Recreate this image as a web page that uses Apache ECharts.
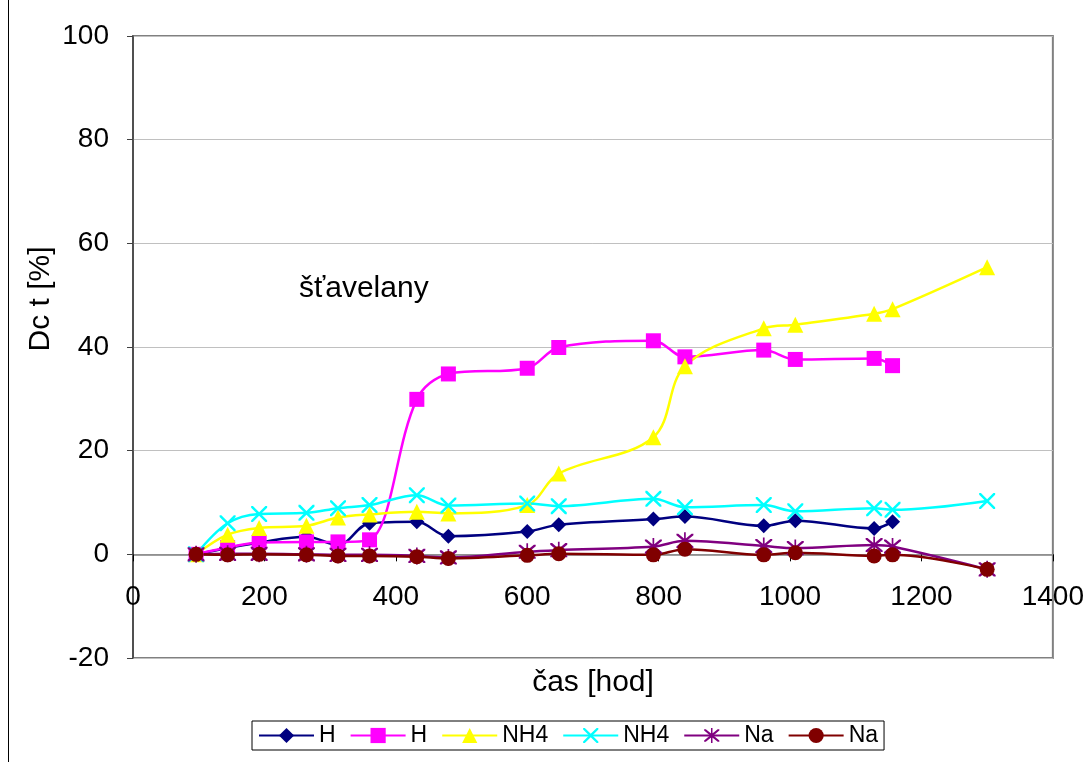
<!DOCTYPE html>
<html>
<head>
<meta charset="utf-8">
<script src="https://cdn.jsdelivr.net/npm/echarts@6/dist/echarts.min.js"></script>
<style>
  html, body { margin: 0; padding: 0; background: #ffffff; }
  #chart { width: 1087px; height: 762px; }
</style>
</head>
<body>
<div id="chart"></div>
<script>
// Time of measurement [hours]
const hours = [96, 144, 192, 264, 312, 360, 432, 480, 600, 648, 792, 840, 960, 1008, 1128, 1156, 1300];

// Relative change Dc t [%] per series
const hNavy     = [0, 1.2, 2.3, 3.4, 1.8, 6.0, 6.3, 3.5, 4.4, 5.7, 6.8, 7.3, 5.5, 6.5, 5.0, 6.3];
const hMagenta  = [0, 1.3, 2.3, 2.4, 2.4, 2.8, 29.9, 34.8, 35.9, 39.9, 41.2, 38.1, 39.4, 37.6, 37.8, 36.4];
const nh4Yellow = [0, 3.8, 5.1, 5.5, 7.1, 7.7, 8.2, 7.9, 9.5, 15.6, 22.6, 36.3, 43.6, 44.3, 46.4, 47.3, 55.4];
const nh4Cyan   = [0, 6.0, 7.8, 8.0, 8.9, 9.5, 11.4, 9.4, 9.8, 9.3, 10.7, 9.1, 9.5, 8.3, 8.9, 8.6, 10.3];
const naPurple  = [0, 0.1, 0.1, 0, -0.1, -0.1, -0.3, -0.6, 0.5, 0.8, 1.5, 2.6, 1.6, 1.2, 1.8, 1.5, -2.9];
const naMaroon  = [0, -0.1, 0, -0.1, -0.3, -0.3, -0.45, -0.8, -0.2, 0.1, -0.1, 1.0, -0.1, 0.3, -0.3, -0.1, -2.9];

// Legend labels (two series share each label, so ids keep them apart)
const seriesLabels = ['H', 'H', 'NH4', 'NH4', 'Na', 'Na'];
const seriesIds = seriesLabels.map((s, i) => s + '#' + (i % 2 + 1));

// Axis ranges and ticks
const xMin = 0, xMax = 1400, xStep = 200;
const yMin = -20, yMax = 100, yStep = 20;

const FONT = '"Liberation Sans", Arial, sans-serif';

// Stroke-like marker shapes built as filled outlines
const crossPath = 'path://M0,0L2.2,0L10,7.8L17.8,0L20,0L20,2.2L12.2,10L20,17.8L20,20L17.8,20L10,12.2L2.2,20L0,20L0,17.8L7.8,10L0,2.2Z';
const starPath = 'path://M0,0L2.2,0L10,7.8L17.8,0L20,0L20,2.2L12.2,10L20,17.8L20,20L17.8,20L10,12.2L2.2,20L0,20L0,17.8L7.8,10L0,2.2Z' +
                 'M9,-2L11,-2L11,22L9,22Z';

function pairs(vals) {
  return vals.map((v, i) => [hours[i], v]);
}

function lineSeries(idx, vals, color, symbol, size) {
  return {
    name: seriesIds[idx],
    type: 'line',
    data: pairs(vals),
    smooth: 0.35,
    symbol: symbol,
    symbolSize: size,
    showAllSymbol: true,
    lineStyle: { color: color, width: 2.5 },
    itemStyle: { color: color, borderWidth: 0 },
    emphasis: { disabled: true },
    animation: false
  };
}

const chart = echarts.init(document.getElementById('chart'), null, { renderer: 'canvas' });

chart.setOption({
  backgroundColor: '#ffffff',
  animation: false,
  grid: {
    left: 133, right: 33, top: 36, bottom: 104,
    show: true,
    borderColor: '#808080',
    borderWidth: 2,
    backgroundColor: 'transparent'
  },
  xAxis: {
    type: 'value',
    min: xMin, max: xMax, interval: xStep,
    axisLine: { show: true, onZero: true, lineStyle: { color: '#808080', width: 1.5 } },
    axisTick: { show: true, inside: false, length: 7, lineStyle: { color: '#000000', width: 1 } },
    axisLabel: {
      color: '#000000', fontFamily: FONT, fontSize: 28, margin: -75,
      formatter: v => String(v)
    },
    splitLine: { show: false }
  },
  yAxis: {
    type: 'value',
    min: yMin, max: yMax, interval: yStep,
    axisLine: { show: true, lineStyle: { color: '#404040', width: 1.5 } },
    axisTick: { show: true, inside: false, length: 6, lineStyle: { color: '#404040', width: 1 } },
    axisLabel: { color: '#000000', fontFamily: FONT, fontSize: 28, margin: 24, formatter: v => String(v) },
    splitLine: { show: true, lineStyle: { color: '#c0c0c0', width: 1 } }
  },
  legend: {
    left: 252, top: 721,
    orient: 'horizontal',
    itemWidth: 55, itemHeight: 19, itemGap: 14,
    padding: [3, 6, 3, 6],
    borderColor: '#000000', borderWidth: 1,
    backgroundColor: '#ffffff',
    textStyle: { color: '#000000', fontFamily: FONT, fontSize: 23 },
    formatter: name => name.split('#')[0],
    data: seriesIds
  },
  graphic: [
    {
      type: 'text', left: 299, top: 274,
      style: { text: 'šťavelany', fill: '#000000', font: '30px ' + FONT }
    },
    {
      type: 'text', x: 41, y: 299, rotation: Math.PI / 2,
      style: { text: 'Dc t [%]', fill: '#000000', font: '30px ' + FONT, align: 'center', verticalAlign: 'middle' }
    },
    {
      type: 'text', x: 593, y: 683,
      style: { text: 'čas [hod]', fill: '#000000', font: '30px ' + FONT, align: 'center', verticalAlign: 'middle' }
    },
    {
      type: 'line', shape: { x1: 8.5, y1: 0, x2: 8.5, y2: 762 },
      style: { stroke: '#000000', lineWidth: 1 }
    }
  ],
  series: [
    lineSeries(0, hNavy, '#000080', 'diamond', 15),
    lineSeries(1, hMagenta, '#ff00ff', 'rect', 15),
    lineSeries(2, nh4Yellow, '#ffff00', 'triangle', 16),
    lineSeries(3, nh4Cyan, '#00ffff', crossPath, 16),
    lineSeries(4, naPurple, '#800080', starPath, 17),
    lineSeries(5, naMaroon, '#800000', 'circle', 15)
  ]
});
</script>
</body>
</html>
